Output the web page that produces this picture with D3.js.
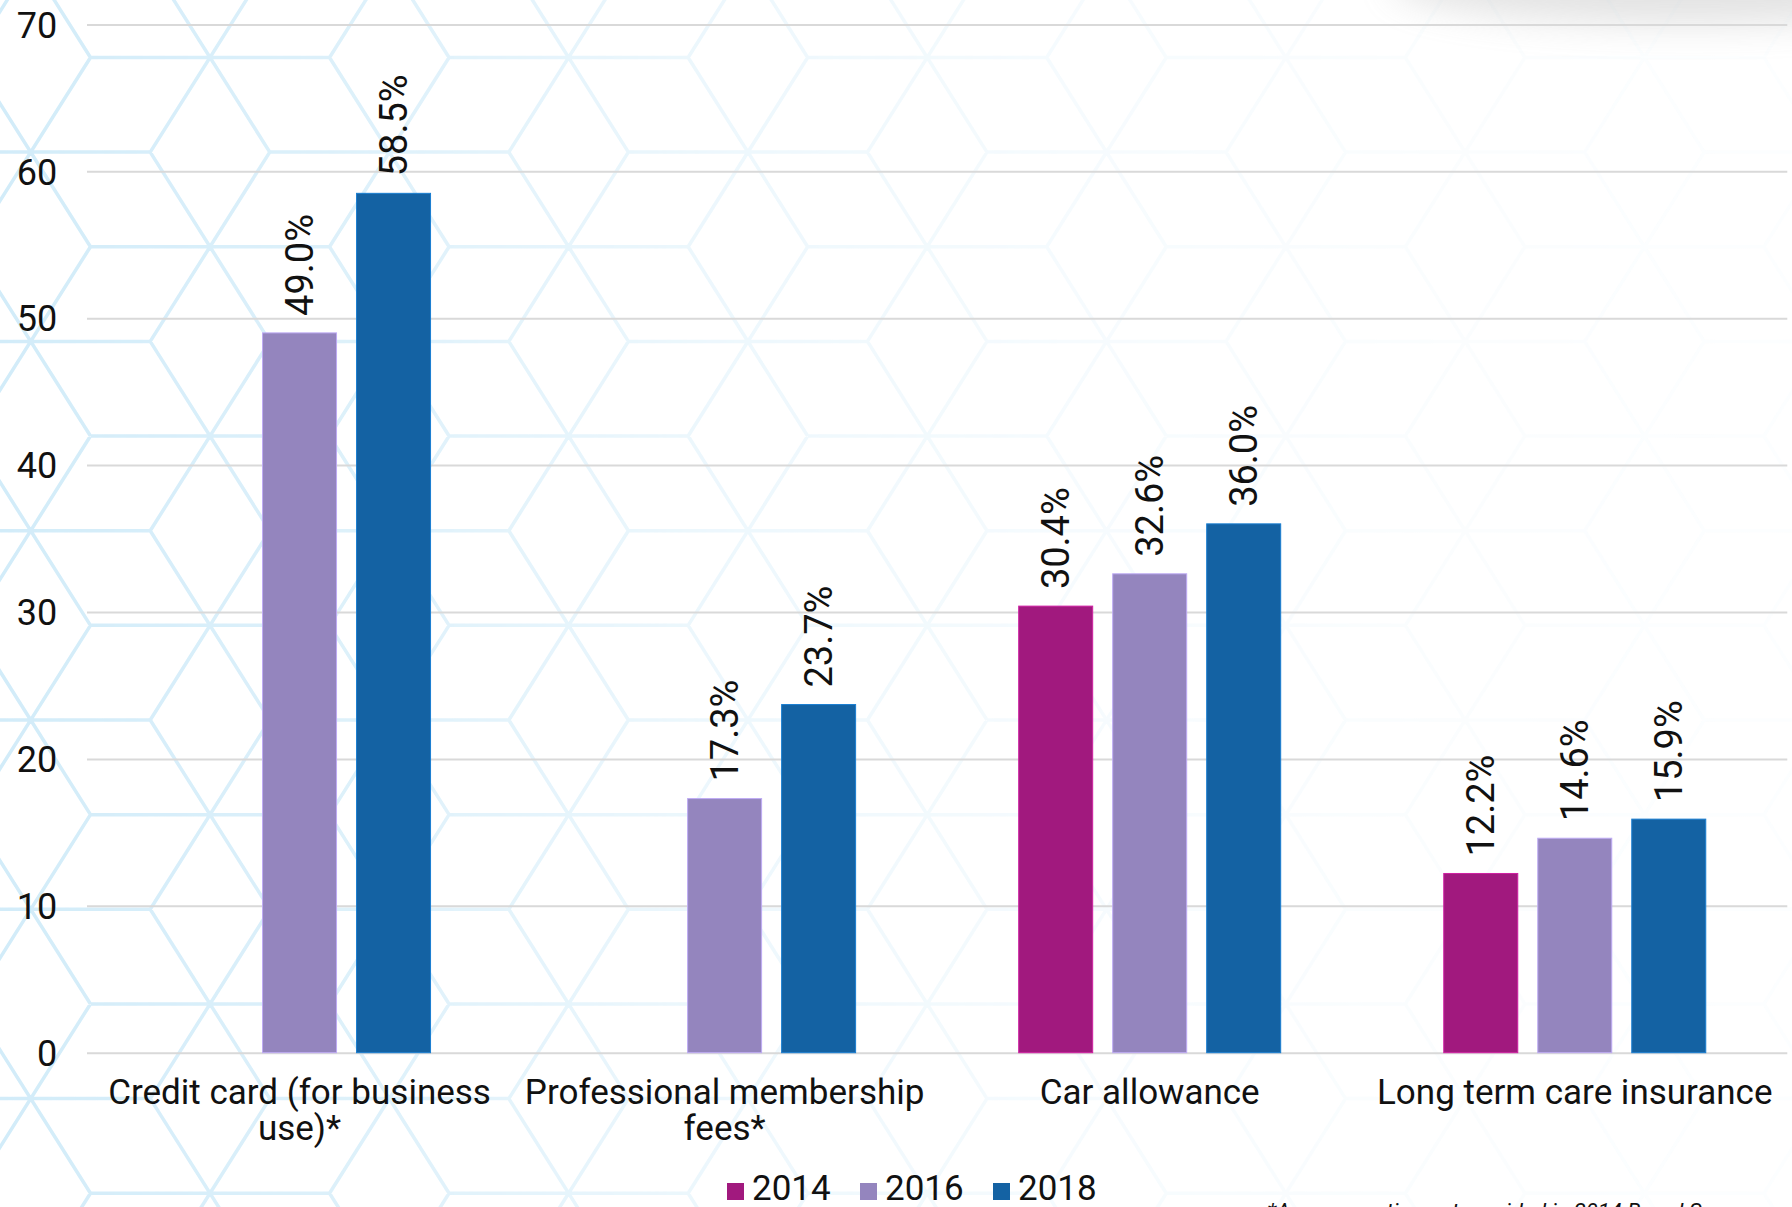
<!DOCTYPE html>
<html>
<head>
<meta charset="utf-8">
<script src="https://cdn.jsdelivr.net/npm/d3@7"></script>
<style>
  html, body { margin: 0; padding: 0; background: #ffffff; }
  svg { display: block; }
</style>
</head>
<body>
<script>
// ---- data ----
const categories = ["Credit card (for business use)*", "Professional membership fees*", "Car allowance", "Long term care insurance"];
const seriesNames = ["2014", "2016", "2018"];
const values2014 = [null, null, 30.4, 12.2];
const values2016 = [49.0, 17.3, 32.6, 14.6];
const values2018 = [58.5, 23.7, 36.0, 15.9];
const yTicks = [0, 10, 20, 30, 40, 50, 60, 70];
const seriesColors = ["#a1197e", "#9485be", "#1462a3"];
const footnote = "*A new question not provided in 2014 Board Survey";

const W = 1792, H = 1207;
const FONT = "Roboto, 'Open Sans', sans-serif";

const svg = d3.select("body").append("svg").attr("width", W).attr("height", H);
const defs = svg.append("defs");

// ---- background hex pattern (decoration) ----
const grad = defs.append("linearGradient").attr("id", "fadeGrad")
  .attr("x1", 0).attr("y1", 0).attr("x2", 1).attr("y2", 0);
[[0, 1], [0.2, 0.75], [0.4, 0.4], [0.6, 0.2], [0.8, 0.1], [1, 0.06]].forEach(([o, a]) =>
  grad.append("stop").attr("offset", o).attr("stop-color", "#fff").attr("stop-opacity", a));
const mask = defs.append("mask").attr("id", "fadeMask");
mask.append("rect").attr("width", W).attr("height", H).attr("fill", "url(#fadeGrad)");

const hx = 179.3, hy = 94.65, ox = 30.7, oy = 530.7;
let d = "";
for (let i = -2; i <= 12; i++) {
  for (let j = -8; j <= 9; j++) {
    if (((i + j) % 2 + 2) % 2 !== 0) continue;
    const cx = ox + hx * i, cy = oy + hy * j;
    d += `M${cx - hx * 2 / 3},${cy}L${cx + hx * 2 / 3},${cy}`;
    d += `M${cx - hx / 3},${cy - hy}L${cx + hx / 3},${cy + hy}`;
    d += `M${cx - hx / 3},${cy + hy}L${cx + hx / 3},${cy - hy}`;
  }
}
svg.append("path").attr("d", d).attr("fill", "none")
  .attr("stroke", "#d2ecf9").attr("stroke-width", 3.5)
  .attr("mask", "url(#fadeMask)");

// top-right soft shadow
const blur = defs.append("filter").attr("id", "blur").attr("x", "-50%").attr("y", "-50%").attr("width", "200%").attr("height", "200%");
blur.append("feGaussianBlur").attr("stdDeviation", 18);
svg.append("ellipse").attr("cx", 1690).attr("cy", -18).attr("rx", 300).attr("ry", 42)
  .attr("fill", "#9a9a9a").attr("opacity", 0.28).attr("filter", "url(#blur)");

// ---- scales ----
const x0 = d3.scaleBand().domain(categories).range([87, 1787.3]).padding(0);
const groupW = 262;
const x1 = d3.scaleBand().domain(seriesNames).range([0, groupW]).paddingInner(20 / 94).paddingOuter(0);
const y = d3.scaleLinear().domain([0, 70]).range([1052.7, 24.4]);

// ---- y axis / grid ----
const yAxis = d3.axisLeft(y).tickValues(yTicks).tickFormat(d3.format("d"))
  .tickSize(-(1787.3 - 87)).tickPadding(29.7);
const gy = svg.append("g").attr("transform", "translate(87,0)").call(yAxis);
gy.select(".domain").remove();
gy.selectAll(".tick line").attr("stroke", "#d9d9d9").attr("stroke-width", 2);
gy.selectAll(".tick text").attr("fill", "#111").attr("font-family", FONT)
  .attr("font-size", 36).attr("dy", "0.355em");

// ---- bars ----
const allSeries = [values2014, values2016, values2018];
const barData = [];
categories.forEach((c, ci) => {
  seriesNames.forEach((s, si) => {
    const v = allSeries[si][ci];
    if (v !== null && v !== undefined) barData.push({ c, s, si, v });
  });
});
const gx = c => x0(c) + (x0.bandwidth() - groupW) / 2;

svg.append("g").selectAll("rect").data(barData).join("rect")
  .attr("x", d => gx(d.c) + x1(d.s))
  .attr("y", d => y(d.v))
  .attr("width", x1.bandwidth())
  .attr("height", d => y(0) - y(d.v))
  .attr("fill", d => seriesColors[d.si])
  .attr("stroke", d => d3.color(seriesColors[d.si]).brighter(0.7))
  .attr("stroke-width", 1);

// value labels
svg.append("g").selectAll("text").data(barData).join("text")
  .attr("transform", d => `translate(${gx(d.c) + x1(d.s) + x1.bandwidth() / 2},${y(d.v) - 17}) rotate(-90)`)
  .attr("dy", "0.355em")
  .attr("text-anchor", "start")
  .attr("font-family", FONT).attr("font-size", 38).attr("fill", "#111")
  .text(d => d.v.toFixed(1) + "%");

// ---- category labels ----
const catG = svg.append("g");
categories.forEach(c => {
  const cx = x0(c) + x0.bandwidth() / 2;
  const words = c.split(" ");
  const lines = [];
  let line = [];
  const probe = catG.append("text").attr("font-family", FONT).attr("font-size", 35);
  words.forEach(w => {
    const test = line.concat([w]).join(" ");
    probe.text(test);
    if (probe.node().getComputedTextLength() > 420 && line.length) {
      lines.push(line.join(" "));
      line = [w];
    } else line.push(w);
  });
  lines.push(line.join(" "));
  probe.remove();
  lines.forEach((l, li) => {
    catG.append("text").attr("x", cx).attr("y", 1104 + li * 36)
      .attr("text-anchor", "middle").attr("font-family", FONT)
      .attr("font-size", 35).attr("fill", "#111").text(l);
  });
});

// ---- legend ----
const legend = svg.append("g");
seriesNames.forEach((s, i) => {
  const lx = 727 + i * 133;
  legend.append("rect").attr("x", lx).attr("y", 1183).attr("width", 17).attr("height", 17)
    .attr("fill", seriesColors[i]);
  legend.append("text").attr("x", lx + 25).attr("y", 1200)
    .attr("font-family", FONT).attr("font-size", 35).attr("fill", "#111").text(s);
});

// ---- footnote (cut off at the bottom edge, as in the original) ----
svg.append("text").attr("x", 1267).attr("y", 1219)
  .attr("font-family", FONT).attr("font-size", 22).attr("font-style", "italic")
  .attr("fill", "#111").text(footnote);
</script>
</body>
</html>
